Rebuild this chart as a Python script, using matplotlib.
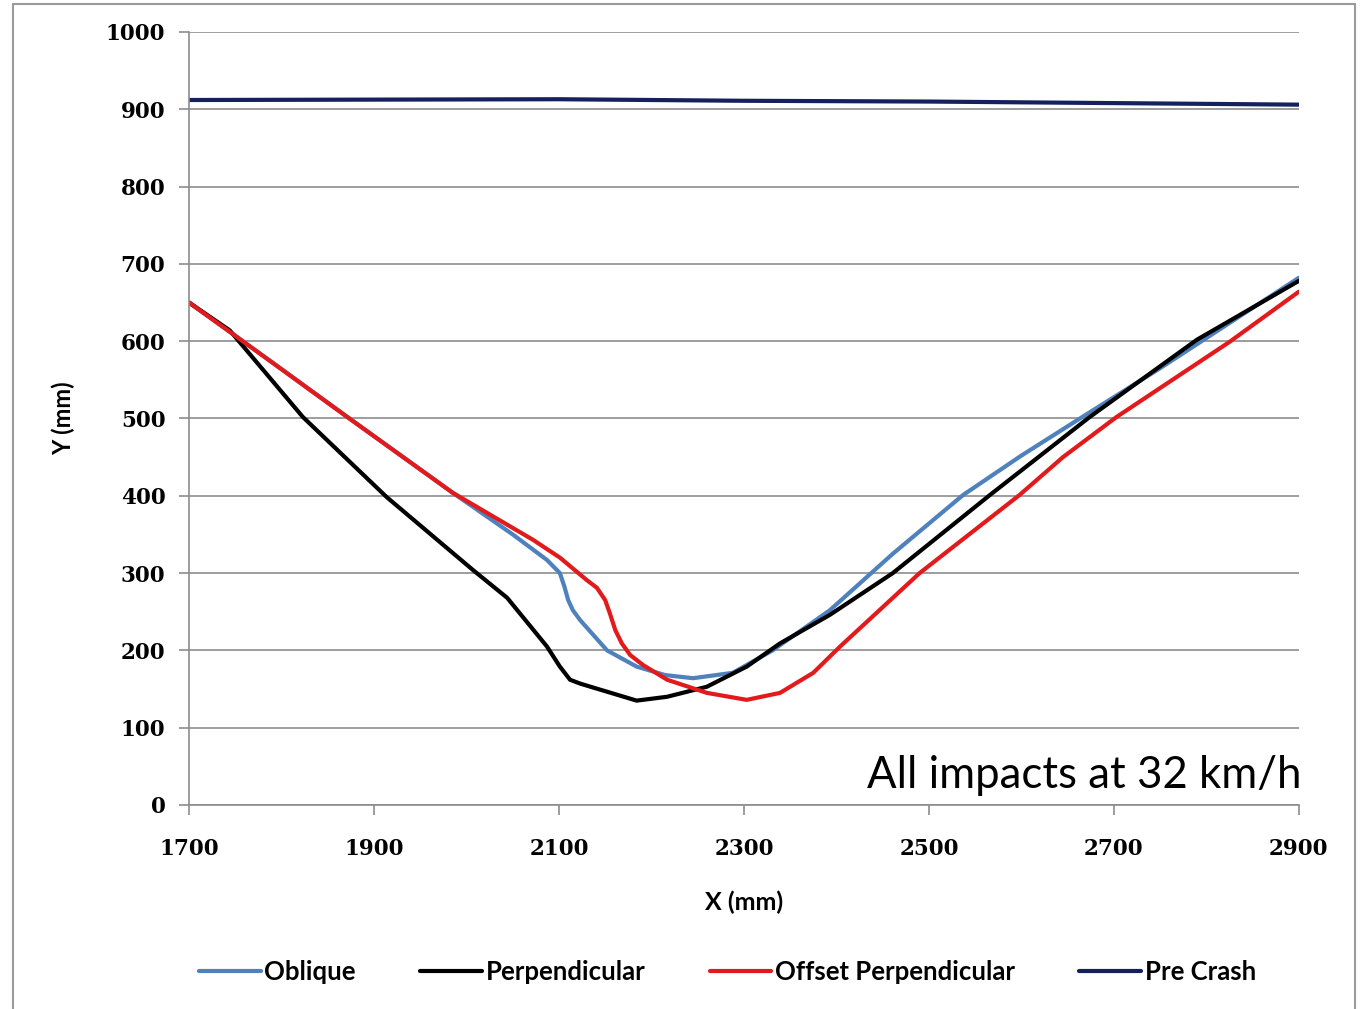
import matplotlib
matplotlib.use("Agg")
import matplotlib.pyplot as plt
from matplotlib.patches import Rectangle

# values
oblique_x = [1700, 1750, 1800, 1870, 1985, 2050, 2087, 2101, 2106, 2110, 2115, 2123,
             2152, 2184, 2215, 2245, 2288, 2331, 2393, 2461, 2537, 2600, 2666, 2750, 2900]
oblique_y = [650, 607, 564, 503, 404, 350, 317, 300, 282, 265, 252, 239,
             200, 179, 168, 164, 171, 200, 252, 325, 401, 452, 502, 565, 682]

perp_x = [1700, 1744, 1780, 1823, 1914, 2007, 2044, 2087, 2101, 2112, 2123, 2134,
          2184, 2217, 2260, 2303, 2339, 2393, 2461, 2566, 2674, 2790, 2900]
perp_y = [650, 614, 563, 502, 398, 304, 268, 205, 179, 162, 157, 153,
          135, 140, 153, 179, 209, 246, 300, 401, 502, 602, 678]

offset_x = [1700, 1750, 1871, 1985, 2072, 2101, 2130, 2141, 2150, 2155, 2161, 2168,
            2177, 2191, 2217, 2260, 2303, 2339, 2375, 2404, 2490, 2598, 2645, 2703,
            2825, 2900]
offset_y = [650, 607, 502, 404, 343, 320, 291, 281, 265, 248, 226, 209,
            194, 181, 162, 145, 136, 145, 171, 205, 300, 401, 450, 502,
            599, 664]

pre_x = [1700, 2100, 2300, 2500, 2700, 2900]
pre_y = [912, 913, 911, 910, 908, 906]

x_ticks = [1700, 1900, 2100, 2300, 2500, 2700, 2900]
y_ticks = list(range(0, 1001, 100))

fig = plt.figure(figsize=(13.6, 10.09), dpi=100)
ax = fig.add_axes([0.139, 0.2022, 0.816, 0.7661])

ax.set_xlim(1700, 2900)
ax.set_ylim(0, 1000)
ax.set_xticks(x_ticks)
ax.set_yticks(y_ticks)
ax.grid(axis="y", color="#8c8c8c", linewidth=1.2)
ax.set_axisbelow(True)

lw = 3.0
ax.plot(oblique_x, oblique_y, color="#4F81BD", lw=lw, label="Oblique",
        solid_capstyle="round", solid_joinstyle="round")
ax.plot(perp_x, perp_y, color="black", lw=lw, label="Perpendicular",
        solid_capstyle="round", solid_joinstyle="round")
ax.plot(offset_x, offset_y, color="#E31A1C", lw=lw, label="Offset Perpendicular",
        solid_capstyle="round", solid_joinstyle="round")
ax.plot(pre_x, pre_y, color="#14215C", lw=lw, label="Pre Crash",
        solid_capstyle="round", solid_joinstyle="round")

for side in ("top", "right"):
    ax.spines[side].set_visible(False)
for side in ("left", "bottom"):
    ax.spines[side].set_color("#8c8c8c")
    ax.spines[side].set_linewidth(1.2)
ax.tick_params(axis="both", color="#8c8c8c", width=1.2, length=7)
ax.tick_params(axis="x", pad=17)
ax.tick_params(axis="y", pad=10)
for lab in ax.get_xticklabels() + ax.get_yticklabels():
    lab.set_fontfamily("DejaVu Serif")
    lab.set_fontweight("bold")
    lab.set_fontsize(15.5)

ax.set_xlabel("X (mm)", fontfamily="Lato", fontweight="bold", fontsize=18, labelpad=22)
ax.set_ylabel("Y (mm)", fontfamily="Lato", fontweight="bold", fontsize=17, labelpad=22)

ax.text(1.002, 0.012, "All impacts at 32 km/h", transform=ax.transAxes,
        ha="right", va="bottom", fontfamily="Lato", fontsize=31.5)

leg = fig.legend(loc="center", bbox_to_anchor=(0.535, 0.037), ncol=4, frameon=False,
                 prop={"family": "Lato", "weight": "bold", "size": 18.5},
                 handlelength=2.4, handletextpad=0.15, columnspacing=2.5)

fig.patches.append(Rectangle((13 / 1360, -0.05), (1355 - 13) / 1360, 1.05 - 4 / 1009,
                             transform=fig.transFigure, fill=False,
                             edgecolor="#9a9a9a", linewidth=1.5))

fig.savefig("out.png", dpi=100)
